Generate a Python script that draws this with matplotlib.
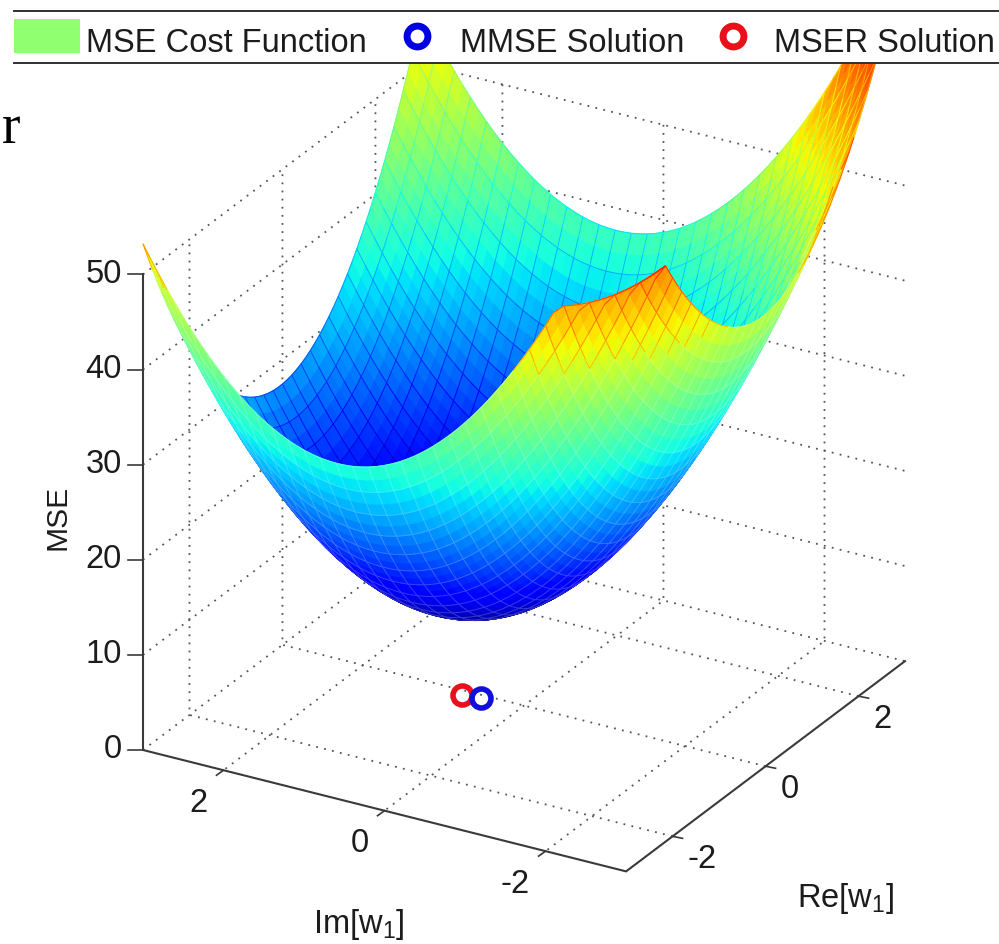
import numpy as np
import matplotlib
matplotlib.use('agg')
import matplotlib.pyplot as plt
from matplotlib.patches import Rectangle
from mpl_toolkits.mplot3d import proj3d
from mpl_toolkits.mplot3d.art3d import Poly3DCollection

plt.rcParams['font.family'] = ['Liberation Sans', 'DejaVu Sans']
plt.rcParams['mathtext.default'] = 'regular'

# surface: height of each rim profile on a 0.1 grid
re_grid = np.linspace(-3, 3, 61)
im_grid = np.linspace(-3, 3, 61)
mse_floor = 10.5
re_profile = [25.8, 24.07, 22.4, 20.79, 19.24, 17.75, 16.32, 14.95, 13.64, 12.39,
              11.2, 10.07, 9.0, 7.99, 7.04, 6.15, 5.32, 4.55, 3.84, 3.19,
              2.6, 2.07, 1.6, 1.19, 0.84, 0.55, 0.32, 0.15, 0.04, -0.01,
              0.0, 0.07, 0.2, 0.39, 0.64, 0.95, 1.32, 1.75, 2.24, 2.79,
              3.4, 4.07, 4.8, 5.59, 6.44, 7.35, 8.32, 9.35, 10.44, 11.59,
              12.8, 14.07, 15.4, 16.79, 18.24, 19.75, 21.32, 22.95, 24.64, 26.39, 28.2]
im_profile = [37.02, 34.96, 32.96, 31.01, 29.12, 27.29, 25.51, 23.79, 22.14, 20.53,
              18.98, 17.49, 16.05, 14.67, 13.35, 12.09, 10.89, 9.74, 8.64, 7.6,
              6.62, 5.69, 4.83, 4.02, 3.27, 2.57, 1.93, 1.36, 0.84, 0.39,
              0.0, -0.33, -0.6, -0.8, -0.95, -1.03, -1.05, -1.01, -0.91, -0.75,
              -0.52, -0.23, 0.12, 0.53, 1.0, 1.53, 2.12, 2.78, 3.5, 4.28,
              5.12, 6.02, 6.99, 8.01, 9.1, 10.25, 11.46, 12.73, 14.07, 15.46, 16.92]

# the front corner of the surface is missing, its edge runs through these points
cut_im = [-3.0, -2.9, -2.8, -2.7, -2.6, -2.5, -2.4, -2.3, -2.2]
cut_re = [-2.15, -2.25, -2.35, -2.45, -2.55, -2.65, -2.75, -2.85, -2.95]
cut_mse = [60.53, 59.75, 59.09, 58.54, 58.11, 57.8, 57.6, 57.52, 57.57]

z_ticks = [0, 10, 20, 30, 40, 50]
re_ticks = [-2, 0, 2]
im_ticks = [-2, 0, 2]

mmse_point = (-0.06, 0.5, 0)
mser_point = (-0.10, 0.71, 0)

legend_names = ['MSE Cost Function', 'MMSE Solution', 'MSER Solution']

W, H = 999, 944
fig = plt.figure(figsize=(W / 100, H / 100), dpi=100, facecolor='white')
ax = fig.add_axes([0, 0, 1, 1], projection='3d', proj_type='ortho')
ax.computed_zorder = False
ax.view_init(elev=25.8, azim=-150)

X, Y = np.meshgrid(re_grid, im_grid)
Z = mse_floor + np.add.outer(np.array(im_profile), np.array(re_profile))
dz_im, dz_re = np.gradient(Z, im_grid, re_grid)
for i, im_val in enumerate(cut_im):
    row = np.argmin(np.abs(im_grid - im_val))
    gone = X[row] < cut_re[i]
    X[row, gone] = cut_re[i]
    Z[row, gone] = cut_mse[i]

z_lo, z_hi = Z.min(), Z.max()
verts = []
face_cols = []
edge_cols = []

# moving a mesh line along the view direction keeps it in place on screen but
# makes the depth sort paint it after the facets next to it
toward_camera = np.array([-0.78 * 6, -0.45 * 6, 0.435 * 52.8]) * 0.03


def mesh_colour(z_mean, r, c):
    level = (z_mean - z_lo) / (z_hi - z_lo)
    inside = 0.78 * dz_re[r, c] + 0.45 * dz_im[r, c] + 0.435 > 0
    if inside:
        return plt.cm.jet(level - 0.08)
    if level > 0.6:
        return plt.cm.jet(level + 0.1)
    base = np.array(plt.cm.jet(level))
    return tuple(base * 0.78 + 0.22)


n_rows, n_cols = Z.shape
for r in range(n_rows - 1):
    for c in range(n_cols - 1):
        rr = [r, r, r + 1, r + 1]
        cc = [c, c + 1, c + 1, c]
        verts.append(np.column_stack([X[rr, cc], Y[rr, cc], Z[rr, cc]]))
        col = plt.cm.jet((Z[rr, cc].mean() - z_lo) / (z_hi - z_lo))
        face_cols.append(col)
        edge_cols.append(col)

for r in range(0, n_rows, 2):
    for c in range(n_cols - 1):
        rr = [r, r, r, r]
        cc = [c, c + 1, c + 1, c]
        verts.append(np.column_stack([X[rr, cc], Y[rr, cc], Z[rr, cc]]) + toward_camera)
        col = mesh_colour(Z[rr, cc].mean(), r, c)
        face_cols.append(col)
        edge_cols.append(col)
for c in range(0, n_cols, 2):
    for r in range(n_rows - 1):
        rr = [r, r + 1, r + 1, r]
        cc = [c, c, c, c]
        verts.append(np.column_stack([X[rr, cc], Y[rr, cc], Z[rr, cc]]) + toward_camera)
        col = mesh_colour(Z[rr, cc].mean(), r, c)
        face_cols.append(col)
        edge_cols.append(col)

surf = Poly3DCollection(verts, facecolors=face_cols, edgecolors=edge_cols,
                        linewidths=0.7, zorder=1)
ax.add_collection3d(surf, autolim=False)

ax.plot([mser_point[0]], [mser_point[1]], [mser_point[2]], 'o', mfc='none',
        mec='#e8101a', ms=13.7, mew=4, zorder=2)
ax.plot([mmse_point[0]], [mmse_point[1]], [mmse_point[2]], 'o', mfc='none',
        mec='#1010d8', ms=13.7, mew=4, zorder=3)

ax.set_xlim(-3, 3, view_margin=0)
ax.set_ylim(-3, 3, view_margin=0)
ax.set_zlim(0, 50, view_margin=0)
ax.set_xticks(re_ticks)
ax.set_yticks(im_ticks)
ax.set_zticks(z_ticks)
ax.set_xticklabels([])
ax.set_yticklabels([])
ax.set_zticklabels([])
for axis in (ax.xaxis, ax.yaxis, ax.zaxis):
    axis.set_pane_color((1, 1, 1, 0))
    axis.pane.set_edgecolor((1, 1, 1, 0))
    axis.line.set_color((1, 1, 1, 0))
    axis._axinfo['tick'].update(inward_factor=0, outward_factor=0)
    axis._axinfo['grid'].update(color='#555555', linewidth=1.3, linestyle=(0, (1, 3.5)))
ax.tick_params(color=(1, 1, 1, 0))


def project(x, y, z):
    ax.apply_aspect()
    px, py, _ = proj3d.proj_transform(x, y, z, ax.get_proj())
    return ax.transData.transform((px, py))


# put the floor corners where they are in the picture
aspect = (1, 1, 0.947)
ax.set_box_aspect(aspect)
left = project(-3, 3, 0)
right = project(3, -3, 0)
ax.set_box_aspect(aspect, zoom=762 / (right[0] - left[0]))
left = project(-3, 3, 0)
ax.set_position([(143 - left[0]) / W, (H - 750 - left[1]) / H, 1, 1])


def to_img(x, y, z):
    p = project(x, y, z)
    return p[0], H - p[1]


ov = fig.add_axes([0, 0, 1, 1], zorder=5)
ov.set_xlim(0, W)
ov.set_ylim(H, 0)
ov.axis('off')

ink = '#1c1c1c'
line = '#3a3a3a'
fs = 23.5

corners = [to_img(-3, 3, 50), to_img(-3, 3, 0), to_img(-3, -3, 0), to_img(3, -3, 0)]
ov.plot([c[0] for c in corners], [c[1] for c in corners], color=line, lw=1.5,
        solid_joinstyle='miter')

for t in z_ticks:
    x, y = to_img(-3, 3, t)
    ov.plot([x - 15, x], [y, y], color=line, lw=1.2)
    ov.text(x - 21, y, str(t), ha='right', va='center', fontsize=fs, color=ink)
for t in im_ticks:
    x, y = to_img(-3, t, 0)
    ov.plot([x - 7, x], [y + 5, y], color=line, lw=1.2)
    ov.text(x - 16, y + 33, str(t), ha='right', va='center', fontsize=fs, color=ink)
for t in re_ticks:
    x, y = to_img(t, -3, 0)
    ov.plot([x, x + 10], [y, y + 2], color=line, lw=1.2)
    ov.text(x + 15, y + 23, str(t), ha='left', va='center', fontsize=fs, color=ink)

ov.text(57, 517, 'MSE', rotation=90, ha='center', va='center', fontsize=21.6, color=ink)
ov.text(359, 924, 'Im[w$_1$]', ha='center', va='center', fontsize=fs, color=ink)
ov.text(845, 899, 'Re[w$_1$]', ha='center', va='center', fontsize=fs, color=ink)
ov.text(2, 143, 'r', ha='left', va='baseline', fontsize=40, color='black',
        family='Liberation Serif')

# legend band sits on top of the surface
ov.add_patch(Rectangle((0, 0), W, 63, fc='white', ec='none', zorder=3))
ov.plot([14, 998], [11, 11], color='#303030', lw=1.4, zorder=4)
ov.plot([14, 998], [63, 63], color='#303030', lw=1.4, zorder=4)
ov.add_patch(Rectangle((14, 19), 66, 34, fc='#90ff70', ec='none', zorder=4))
ov.plot([417], [36], 'o', mfc='none', mec='#0000e0', ms=15, mew=5, zorder=4)
ov.plot([733], [36], 'o', mfc='none', mec='#e8101a', ms=15, mew=5, zorder=4)
ov.text(86, 52, legend_names[0], ha='left', va='baseline', fontsize=fs, color=ink, zorder=4)
ov.text(460, 52, legend_names[1], ha='left', va='baseline', fontsize=fs, color=ink, zorder=4)
ov.text(774, 52, legend_names[2], ha='left', va='baseline', fontsize=fs, color=ink, zorder=4)

fig.savefig('out.png', dpi=100)
